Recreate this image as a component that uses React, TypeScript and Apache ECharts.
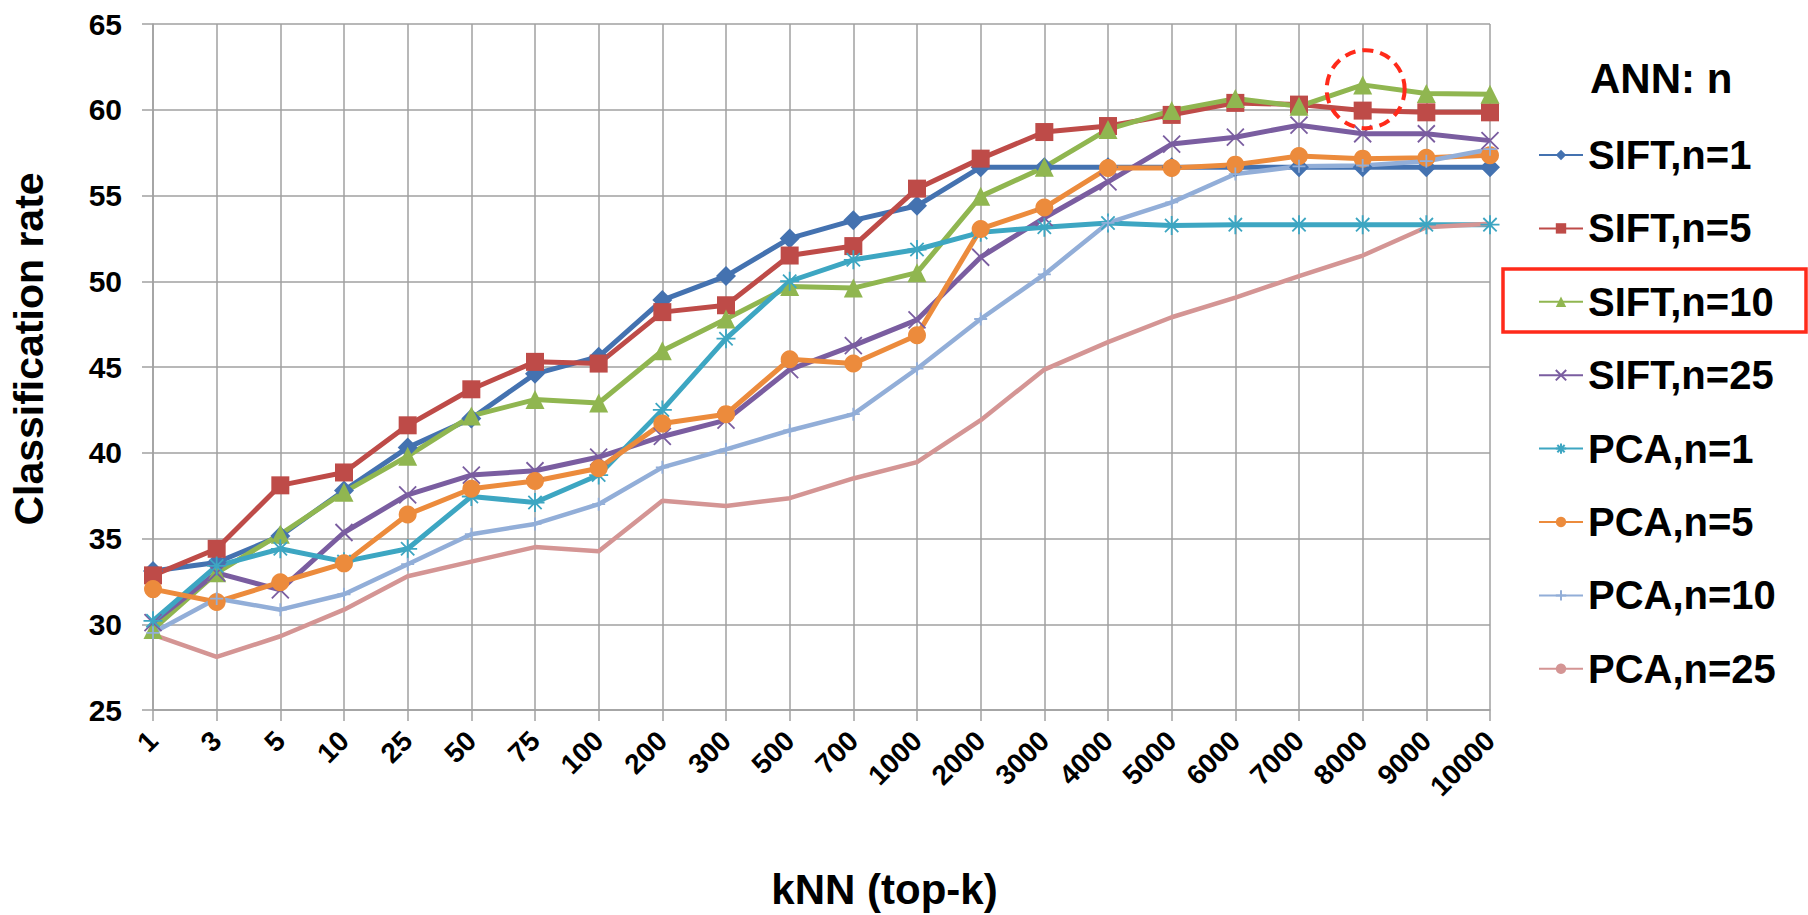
import React, { useEffect, useRef } from "react";
import * as echarts from "echarts";

const categories = ["1", "3", "5", "10", "25", "50", "75", "100", "200", "300", "500", "700", "1000", "2000", "3000", "4000", "5000", "6000", "7000", "8000", "9000", "10000"];

const siftN1 = [33.1, 33.6, 35.15, 37.8, 40.3, 42.0, 44.6, 45.6, 48.9, 50.3, 52.5, 53.55, 54.4, 56.65, 56.65, 56.65, 56.65, 56.65, 56.65, 56.65, 56.65, 56.65];
const siftN5 = [32.85, 34.4, 38.1, 38.85, 41.6, 43.7, 45.3, 45.2, 48.2, 48.6, 51.5, 52.05, 55.4, 57.15, 58.7, 59.05, 59.7, 60.4, 60.3, 59.95, 59.85, 59.85];
const siftN10 = [29.7, 33.0, 35.25, 37.7, 39.8, 42.15, 43.1, 42.9, 45.95, 47.8, 49.7, 49.6, 50.5, 54.95, 56.65, 58.85, 59.95, 60.65, 60.2, 61.45, 60.95, 60.9];
const siftN25 = [30.1, 33.0, 32.0, 35.35, 37.55, 38.7, 38.95, 39.75, 40.95, 41.9, 44.85, 46.25, 47.75, 51.4, 53.7, 55.8, 58.0, 58.4, 59.1, 58.6, 58.6, 58.2];
const pcaN1 = [30.2, 33.4, 34.4, 33.65, 34.4, 37.45, 37.1, 38.7, 42.5, 46.65, 50.0, 51.25, 51.85, 52.85, 53.15, 53.4, 53.25, 53.3, 53.3, 53.3, 53.3, 53.3];
const pcaN5 = [32.05, 31.3, 32.45, 33.55, 36.4, 37.9, 38.35, 39.1, 41.7, 42.25, 45.45, 45.2, 46.85, 53.05, 54.3, 56.6, 56.6, 56.8, 57.3, 57.15, 57.2, 57.35];
const pcaN10 = [29.5, 31.5, 30.85, 31.75, 33.5, 35.25, 35.85, 37.0, 39.15, 40.2, 41.3, 42.25, 44.9, 47.8, 50.4, 53.4, 54.6, 56.25, 56.7, 56.75, 57.0, 57.7];
const pcaN25 = [29.4, 28.1, 29.3, 30.85, 32.8, 33.65, 34.5, 34.25, 37.2, 36.9, 37.35, 38.5, 39.45, 41.9, 44.85, 46.45, 47.9, 49.05, 50.3, 51.5, 53.15, 53.35];

const yTicks = { min: 25, max: 65, interval: 5 };
const highlightPoint = { category: "8000", value: 61.2 };

const FONT = "Liberation Sans";
const GRID_COLOR = "#a0a0a0";

const X_PATH = "path://M0,0L10,10M10,0L0,10";
const STAR_PATH = "path://M0,5L10,5M5,0L5,10M1.5,1.5L8.5,8.5M8.5,1.5L1.5,8.5";
const PLUS_PATH = "path://M0,5L10,5M5,0L5,10";

type SDef = {
  name: string;
  data: number[];
  color: string;
  symbol: string;
  size: number;
  width: number;
  stroke?: boolean;
};

const seriesDefs: SDef[] = [
  { name: "SIFT,n=1", data: siftN1, color: "#4472B0", symbol: "diamond", size: 20, width: 5 },
  { name: "SIFT,n=5", data: siftN5, color: "#BE4B48", symbol: "rect", size: 18, width: 5 },
  { name: "SIFT,n=10", data: siftN10, color: "#90B650", symbol: "triangle", size: 19, width: 5 },
  { name: "SIFT,n=25", data: siftN25, color: "#7A5DA0", symbol: X_PATH, size: 17, width: 5, stroke: true },
  { name: "PCA,n=1", data: pcaN1, color: "#3DA6C2", symbol: STAR_PATH, size: 19, width: 5, stroke: true },
  { name: "PCA,n=5", data: pcaN5, color: "#EC8B3C", symbol: "circle", size: 18, width: 5 },
  { name: "PCA,n=10", data: pcaN10, color: "#92AED8", symbol: PLUS_PATH, size: 13, width: 4.5, stroke: true },
  { name: "PCA,n=25", data: pcaN25, color: "#D49594", symbol: "none", size: 0, width: 4.5 },
];

export default function App() {
  const ref = useRef<HTMLDivElement>(null);

  useEffect(() => {
    if (!ref.current) return;
    const chart = echarts.init(ref.current, undefined, { renderer: "svg" });

    const series = seriesDefs.map((d) => ({
      name: d.name,
      type: "line",
      data: d.data,
      symbol: d.symbol,
      symbolSize: d.size,
      showSymbol: d.symbol !== "none",
      color: d.color,
      lineStyle: { color: d.color, width: d.width },
      itemStyle: d.stroke
        ? { color: d.color, borderColor: d.color, borderWidth: 1.8 }
        : { color: d.color, borderWidth: 0 },
      emphasis: { disabled: true },
    }));

    chart.setOption({
      animation: false,
      backgroundColor: "#ffffff",
      textStyle: { fontFamily: FONT },
      title: {
        text: "ANN: n",
        left: 1590,
        top: 57,
        padding: 0,
        textStyle: { fontFamily: FONT, fontWeight: "bold", fontSize: 42, lineHeight: 42, color: "#000" },
      },
      legend: {
        orient: "vertical",
        left: 1538,
        top: 133,
        padding: 0,
        itemGap: 29.4,
        itemWidth: 44,
        itemHeight: 13,
        data: seriesDefs.map((d) => d.name),
        textStyle: { fontFamily: FONT, fontWeight: "bold", fontSize: 40, lineHeight: 44, color: "#000" },
      },
      grid: { left: 153, right: 318, top: 24, bottom: 204, containLabel: false },
      xAxis: {
        type: "category",
        data: categories,
        boundaryGap: false,
        name: "kNN (top-k)",
        nameLocation: "middle",
        nameGap: 158,
        nameTextStyle: { fontFamily: FONT, fontWeight: "bold", fontSize: 42, color: "#000", padding: [0, 0, 0, 126] },
        axisLine: { show: true, lineStyle: { color: GRID_COLOR, width: 1.5 } },
        axisTick: { show: true, length: 11, lineStyle: { color: GRID_COLOR, width: 1.5 } },
        splitLine: { show: true, lineStyle: { color: GRID_COLOR, width: 1.5 } },
        axisLabel: {
          interval: 0,
          rotate: 45,
          margin: 26,
          fontFamily: FONT,
          fontWeight: "bold",
          fontSize: 28,
          color: "#000",
        },
      },
      yAxis: {
        type: "value",
        min: yTicks.min,
        max: yTicks.max,
        interval: yTicks.interval,
        name: "Classification rate",
        nameLocation: "middle",
        nameRotate: 90,
        nameGap: 104,
        nameTextStyle: { fontFamily: FONT, fontWeight: "bold", fontSize: 41, color: "#000", padding: [0, 0, 0, 36] },
        axisLine: { show: true, lineStyle: { color: GRID_COLOR, width: 1.5 } },
        axisTick: { show: true, length: 11, lineStyle: { color: GRID_COLOR, width: 1.5 } },
        splitLine: { show: true, lineStyle: { color: GRID_COLOR, width: 1.5 } },
        axisLabel: {
          margin: 31,
          fontFamily: FONT,
          fontWeight: "bold",
          fontSize: 30,
          color: "#000",
        },
      },
      series,
    });

    const p = chart.convertToPixel({ xAxisIndex: 0, yAxisIndex: 0 }, [highlightPoint.category, highlightPoint.value]) as number[];
    chart.setOption({
      graphic: [
        {
          type: "circle",
          shape: { cx: p[0] + 3, cy: p[1], r: 39 },
          style: { fill: "none", stroke: "#FF2A1A", lineWidth: 4, lineDash: [11, 7] },
          z: 100,
        },
        {
          type: "rect",
          shape: { x: 1503, y: 269, width: 303, height: 63 },
          style: { fill: "none", stroke: "#FF2A1A", lineWidth: 3.5 },
          z: 100,
        },
      ],
    });

    return () => chart.dispose();
  }, []);

  return (
    <div
      ref={ref}
      style={{ position: "absolute", left: 0, top: 0, width: 1808, height: 915 }}
    />
  );
}
